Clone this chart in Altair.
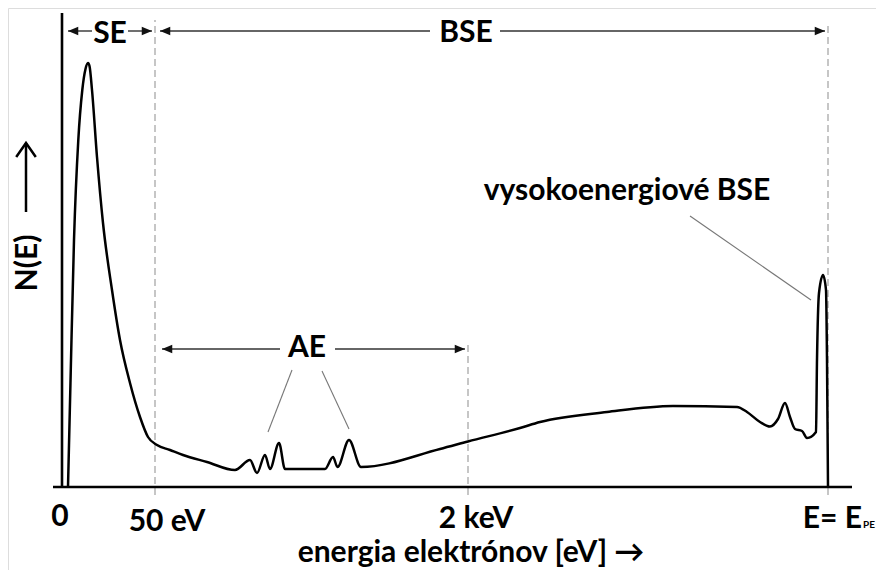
import altair as alt
import pandas as pd

# Schematic units: x = position along the energy axis, y = N(E) (arbitrary units)
curve_E = [6, 8.7, 12, 16.3, 20.3, 23.5, 26, 27.5, 30, 35, 41, 50, 58, 68, 78, 86, 95, 108, 121, 145, 173,
           188, 195, 203, 208, 217, 223, 238, 263, 271, 275.5, 287, 299, 378, 406, 458, 478, 545, 611,
           675, 685, 698, 708, 716, 723, 728, 733, 740, 745, 754, 755, 757, 761, 764, 765, 766]
curve_N = [0, 114, 247, 347, 397, 418, 424, 421, 397, 330, 264, 197, 147, 104, 70, 50, 42, 37, 32, 25, 17,
           27, 14, 32, 18, 44, 18, 18, 18, 30, 20, 47, 20, 38, 45.5, 59, 65, 75, 81,
           80, 75, 65, 60.5, 68, 84, 70, 58, 56, 49, 55, 127, 194, 212, 197, 127, 0]

# dashed guide lines (position, bottom, top)
guide_x = [93, 406, 766]
guide_y0 = [-8, -8, -8]
guide_y1 = [467, 144, 465]

# range arrows: label, left tip, right tip, height, gap start, gap end
arrow_labels = ["SE", "BSE", "AE"]
arrow_left = [6, 98, 100]
arrow_right = [90, 763, 403]
arrow_y = [456, 456, 138]
gap_left = [30, 368, 218]
gap_right = [66, 438, 273]
label_x = [48, 404, 245]
label_y = [444.5, 445, 130]

# leader lines
lead_x = [230, 260, 628]
lead_y = [117, 116, 271]
lead_x2 = [206, 287, 749]
lead_y2 = [55, 58, 187]

tick_labels = ["0", "50 eV", "2 keV"]
tick_x = [-2, 105, 414]
tick_y = [-39, -44, -41]

xs = alt.Scale(domain=[-54, 814], nice=False, zero=False)
ys = alt.Scale(domain=[-83, 479], nice=False, zero=False)
FONT = "Lato"


def X(f="x"):
    return alt.X(f"{f}:Q", scale=xs, axis=None)


def Y(f="y"):
    return alt.Y(f"{f}:Q", scale=ys, axis=None)


guides = alt.Chart(pd.DataFrame({"x": guide_x, "y": guide_y0, "y2": guide_y1})).mark_rule(
    color="#a8a8a8", strokeWidth=1.3, strokeDash=[7, 4]
).encode(x=X(), y=Y(), y2="y2:Q")

axes_df = pd.DataFrame({"x": [0, -9], "x2": [0, 790], "y": [0, 0], "y2": [474, 0]})
axes = alt.Chart(axes_df).mark_rule(color="black", strokeWidth=2.6).encode(
    x=X(), x2="x2:Q", y=Y(), y2="y2:Q"
)

curve = alt.Chart(pd.DataFrame({"E": curve_E, "N": curve_N})).mark_line(
    color="black", strokeWidth=2.5, interpolate="monotone"
).encode(x=X("E"), y=Y("N"), order="E:Q")

seg_rows = []
for i in range(len(arrow_labels)):
    seg_rows.append({"x": arrow_left[i], "x2": gap_left[i], "y": arrow_y[i]})
    seg_rows.append({"x": gap_right[i], "x2": arrow_right[i], "y": arrow_y[i]})
shafts = alt.Chart(pd.DataFrame(seg_rows)).mark_rule(color="#333333", strokeWidth=1.4).encode(
    x=X(), x2="x2:Q", y=Y()
)

heads_l = alt.Chart(pd.DataFrame({"x": arrow_left, "y": arrow_y})).mark_point(
    shape="M0,0 L1,-0.42 L1,0.42 Z", filled=True, color="#111111", size=420, opacity=1
).encode(x=X(), y=Y())
heads_r = alt.Chart(pd.DataFrame({"x": arrow_right, "y": arrow_y})).mark_point(
    shape="M0,0 L-1,-0.42 L-1,0.42 Z", filled=True, color="#111111", size=420, opacity=1
).encode(x=X(), y=Y())

leaders = alt.Chart(pd.DataFrame({"x": lead_x, "y": lead_y, "x2": lead_x2, "y2": lead_y2})).mark_rule(
    color="#777777", strokeWidth=1.1
).encode(x=X(), y=Y(), x2="x2:Q", y2="y2:Q")

big_labels = alt.Chart(pd.DataFrame({"t": arrow_labels + ["vysokoenergiové BSE"],
                                     "x": label_x + [627 - 62],
                                     "y": label_y + [287]})).mark_text(
    font=FONT, fontWeight="bold", fontSize=30, align="center", baseline="alphabetic", color="black"
).encode(x=X(), y=Y(), text="t:N")

ticks = alt.Chart(pd.DataFrame({"t": tick_labels, "x": tick_x, "y": tick_y})).mark_text(
    font=FONT, fontWeight="bold", fontSize=30, align="center", baseline="alphabetic", color="black"
).encode(x=X(), y=Y(), text="t:N")

epe = alt.Chart(pd.DataFrame({"t": ["E= E"], "x": [800], "y": [-41]})).mark_text(
    font=FONT, fontWeight="bold", fontSize=30, align="right", baseline="alphabetic", color="black"
).encode(x=X(), y=Y(), text="t:N")
epe_sub = alt.Chart(pd.DataFrame({"t": ["PE"], "x": [801], "y": [-41]})).mark_text(
    font=FONT, fontWeight="bold", fontSize=10, align="left", baseline="alphabetic", color="black"
).encode(x=X(), y=Y(), text="t:N")

xtitle = alt.Chart(pd.DataFrame({"t": ["energia elektrónov [eV] →"], "x": [409], "y": [-75]})).mark_text(
    font=FONT, fontWeight="bold", fontSize=30, align="center", baseline="alphabetic", color="black"
).encode(x=X(), y=Y(), text="t:N")

ytitle = alt.Chart(pd.DataFrame({"t": ["N(E)"], "x": [-34], "y": [224]})).mark_text(
    font=FONT, fontWeight="bold", fontSize=30, align="center", baseline="middle", angle=270, color="black"
).encode(x=X(), y=Y(), text="t:N")

yarrow = alt.Chart(pd.DataFrame({"x": [-36], "y": [275], "y2": [344]})).mark_rule(
    color="black", strokeWidth=2.5
).encode(x=X(), y=Y(), y2="y2:Q")
yhead = alt.Chart(pd.DataFrame({"x": [-36], "y": [344]})).mark_point(
    shape="M-0.7,1 L0,0 L0.7,1", filled=False, color="black", size=784, strokeWidth=2.5, opacity=1
).encode(x=X(), y=Y())

chart = alt.layer(
    guides, axes, curve, shafts, heads_l, heads_r, leaders, big_labels, ticks, epe, epe_sub,
    xtitle, ytitle, yarrow, yhead
).properties(
    width=868, height=562, padding=0, autosize=alt.AutoSizeParams(type="none")
).configure_view(stroke=None).configure(background="white")

chart.save("out.html", embed_options={"renderer": "svg", "actions": False})
